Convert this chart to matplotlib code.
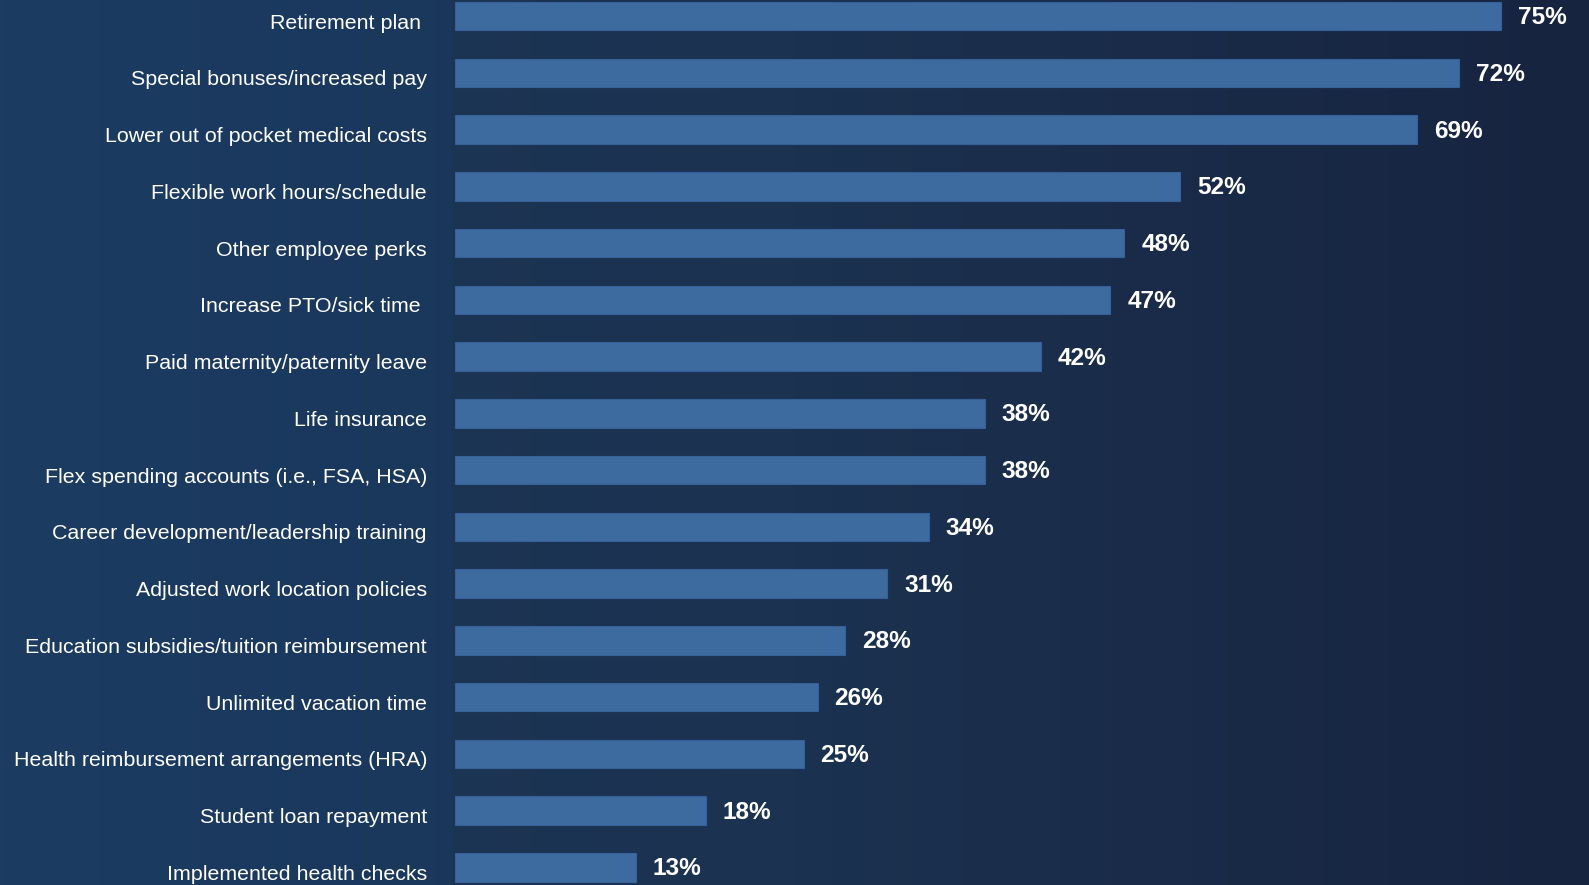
import numpy as np
import matplotlib.pyplot as plt
import matplotlib.transforms as mtransforms
from matplotlib.colors import LinearSegmentedColormap

# survey results: share of employers offering each benefit
benefits = [
    "Retirement plan ",
    "Special bonuses/increased pay",
    "Lower out of pocket medical costs",
    "Flexible work hours/schedule",
    "Other employee perks",
    "Increase PTO/sick time ",
    "Paid maternity/paternity leave",
    "Life insurance",
    "Flex spending accounts (i.e., FSA, HSA)",
    "Career development/leadership training",
    "Adjusted work location policies",
    "Education subsidies/tuition reimbursement",
    "Unlimited vacation time",
    "Health reimbursement arrangements (HRA)",
    "Student loan repayment",
    "Implemented health checks",
]
percent = [75, 72, 69, 52, 48, 47, 42, 38, 38, 34, 31, 28, 26, 25, 18, 13]

plt.rcParams['font.family'] = ['Liberation Sans', 'DejaVu Sans']

W, H = 1589, 885
fig = plt.figure(figsize=(W / 100, H / 100), dpi=100)

# navy background, lighter on the left
bg = fig.add_axes([0, 0, 1, 1])
cmap = LinearSegmentedColormap.from_list("navy", ["#1c3c62", "#193457", "#13203f"])
grad = np.linspace(0, 1, 256).reshape(1, -1)
bg.imshow(grad, aspect="auto", cmap=cmap, extent=[0, 1, 0, 1])
bg.axis("off")

left = 452 / W
ax = fig.add_axes([left, 0, 1 - left, 1])
ax.set_facecolor((0.13, 0.18, 0.26, 0.3))
for s in ax.spines.values():
    s.set_visible(False)

y = np.arange(len(benefits))
ax.barh(y, percent, height=0.5, color="#3d6a9f", edgecolor="#35609a", linewidth=0.8)

# value labels sit a touch below centre
val_shift = mtransforms.ScaledTranslation(0, -1.5 / 100, fig.dpi_scale_trans)
for yi, v in zip(y, percent):
    ax.text(v + 1.2, yi, f"{v}%", color="white", fontsize=17.6, fontweight="bold",
            va="center", ha="left", transform=ax.transData + val_shift)

ax.set_xlim(-0.2, 81.3)
ax.set_ylim(15.31, -0.285)
ax.set_xticks([])
ax.set_yticks(y)
ax.set_yticklabels(benefits, color="white", fontsize=15.4)
ax.tick_params(axis="y", length=0, pad=18)

# category labels a little lower than the bar centres
offset = mtransforms.ScaledTranslation(0, -5 / 100, fig.dpi_scale_trans)
for lbl in ax.get_yticklabels():
    lbl.set_transform(lbl.get_transform() + offset)

plt.savefig("out.png", dpi=100)
